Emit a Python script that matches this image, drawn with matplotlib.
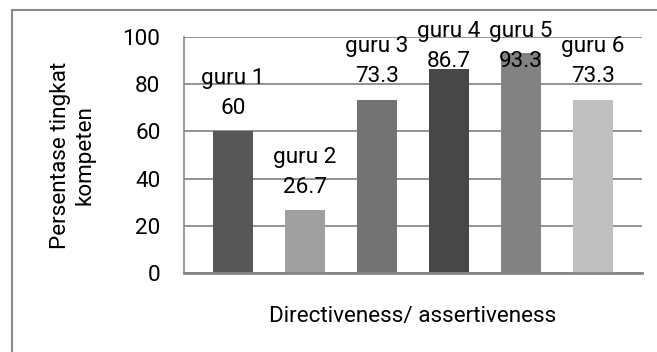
import matplotlib
matplotlib.use("Agg")
import matplotlib.pyplot as plt
from matplotlib.patches import Rectangle

# Data
teachers = ["guru 1", "guru 2", "guru 3", "guru 4", "guru 5", "guru 6"]
scores = [60, 26.7, 73.3, 86.7, 93.3, 73.3]
y_ticks = [0, 20, 40, 60, 80, 100]

# Styling
bar_colors = ["#575757", "#a0a0a0", "#737373", "#474747", "#828282", "#bfbfbf"]
value_label_y = [67.4, 34.0, 81.1, 87.2, 87.2, 81.1]  # baselines of the value lines
name_gap = 12.8

plt.rcParams["font.family"] = ["Roboto", "DejaVu Sans"]
FS = 16.2
GRID = "#8a8a8a"

fig = plt.figure(figsize=(6.57, 3.52), dpi=100)
W, H = 657, 352

ax = fig.add_axes([184 / W, 1 - 272.7 / H, (642 - 184) / W, (272.7 - 37.3) / H])

xs = list(range(len(teachers)))
ax.bar(xs, scores, width=0.55, color=bar_colors, zorder=3)

ax.set_ylim(0, 100)
ax.set_xlim(-0.68, len(teachers) - 1 + 0.68)
ax.set_yticks(y_ticks)
ax.set_yticklabels([str(t) for t in y_ticks], fontsize=FS)
ax.tick_params(axis="y", length=0, pad=17)
ax.set_xticks([])
ax.yaxis.grid(True, color=GRID, linewidth=1.3, zorder=0)

for side in ("top", "right"):
    ax.spines[side].set_visible(False)
ax.spines["left"].set_color(GRID)
ax.spines["left"].set_linewidth(1.2)
ax.spines["bottom"].set_color("#868686")
ax.spines["bottom"].set_linewidth(2.0)
ax.spines["bottom"].set_zorder(4)

for x, name, val, ly in zip(xs, teachers, scores, value_label_y):
    ax.text(x, ly, f"{val:g}", ha="center", va="baseline", fontsize=FS, zorder=5)
    ax.text(x, ly + name_gap, name, ha="center", va="baseline", fontsize=FS, zorder=5)

fig.text(413 / W, 1 - 321.7 / H, "Directiveness/ assertiveness",
         ha="center", va="baseline", fontsize=FS)
fig.text(73 / W, 1 - 155 / H, "Persentase tingkat\nkompeten",
         ha="center", va="center", rotation=90, fontsize=FS, linespacing=1.2)

# chart area border
fig.patches.append(Rectangle((12 / W, -0.2), 1.2, 1.2 - 10 / H,
                             transform=fig.transFigure, fill=False,
                             edgecolor=GRID, linewidth=1.5))

fig.savefig("out.png", dpi=100)
